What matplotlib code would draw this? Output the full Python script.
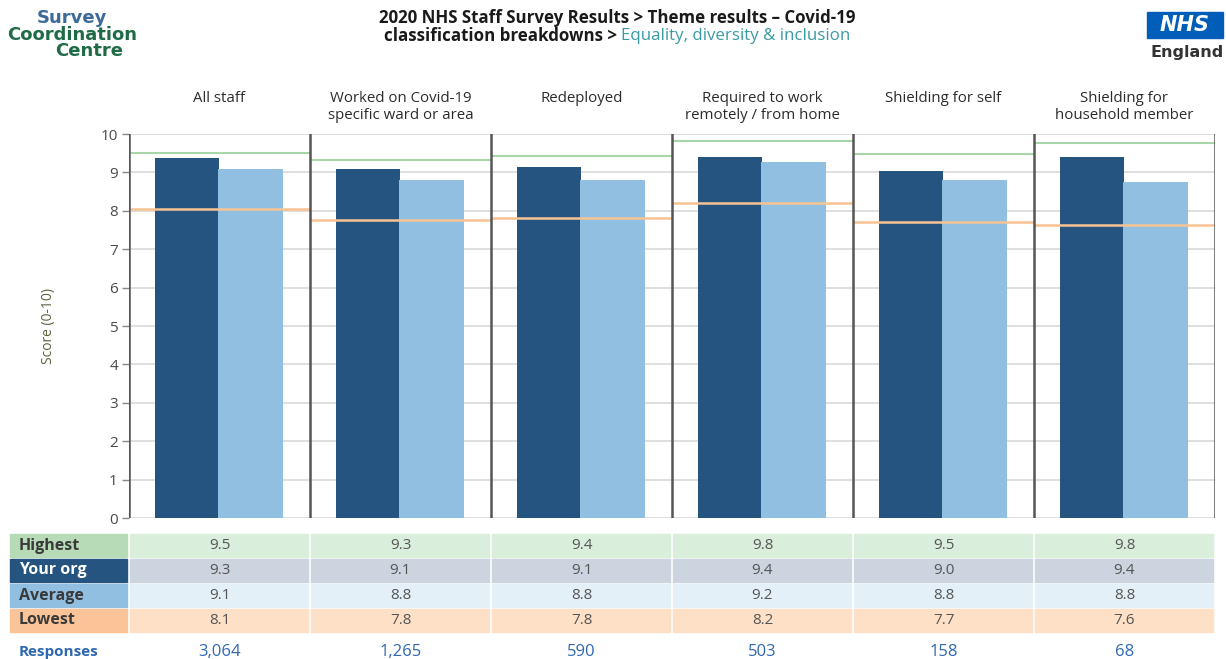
import matplotlib
matplotlib.use("Agg")
import matplotlib.pyplot as plt
from matplotlib.patches import Rectangle
import numpy as np

plt.rcParams['font.family'] = ['Open Sans', 'DejaVu Sans']

# data
categories = ["All staff", "Worked on Covid-19\nspecific ward or area", "Redeployed",
              "Required to work\nremotely / from home", "Shielding for self",
              "Shielding for\nhousehold member"]
your_org = [9.37, 9.09, 9.14, 9.40, 9.04, 9.40]
average = [9.09, 8.80, 8.80, 9.27, 8.80, 8.75]
highest = [9.50, 9.32, 9.43, 9.82, 9.48, 9.77]
lowest = [8.05, 7.76, 7.81, 8.20, 7.71, 7.63]

# table values as printed
tab_highest = ["9.5", "9.3", "9.4", "9.8", "9.5", "9.8"]
tab_org = ["9.3", "9.1", "9.1", "9.4", "9.0", "9.4"]
tab_avg = ["9.1", "8.8", "8.8", "9.2", "8.8", "8.8"]
tab_low = ["8.1", "7.8", "7.8", "8.2", "7.7", "7.6"]
responses = ["3,064", "1,265", "590", "503", "158", "68"]

DARK = '#24547f'
LIGHT = '#91bfe1'
GREEN_LINE = '#a9d6a9'
ORANGE_LINE = '#f8c393'

W, H = 1226, 659
fig = plt.figure(figsize=(W / 100, H / 100), dpi=100)

def px_axes(x0, y0, x1, y1):
    # axes from pixel box (top-left origin)
    return fig.add_axes([x0 / W, 1 - y1 / H, (x1 - x0) / W, (y1 - y0) / H])

ax = px_axes(129, 134, 1215, 518)
n = len(categories)
x = np.arange(n)

ax.bar(x + 0.32, your_org, width=0.355, color=DARK, zorder=3)
ax.bar(x + 0.672, average, width=0.36, color=LIGHT, zorder=3)
ax.hlines(highest, x, x + 1, color=GREEN_LINE, lw=1.5, zorder=4)
ax.hlines(lowest, x, x + 1, color=ORANGE_LINE, lw=1.8, zorder=4)

ax.set_xlim(0, n)
ax.set_ylim(0, 10)
ax.set_yticks(range(0, 11))
ax.set_xticks([])
ax.grid(axis='y', color='#d9d9d9', lw=1.2, zorder=0)
for s in ax.spines.values():
    s.set_visible(False)
for i in range(n + 1):
    ax.axvline(i, color='#555555', lw=1.8, zorder=5)
ax.tick_params(axis='y', length=5, width=1, color='#888888', labelsize=11,
               labelcolor='#4a4a4a', pad=3)
ax.set_ylabel("Score (0-10)", fontsize=10, color='#5b6540', labelpad=32)

for i, c in enumerate(categories):
    ax.text(i + 0.5, 11.12, c, ha='center', va='top', fontsize=10.8,
            color='#2b2b2b', linespacing=1.15, clip_on=False)

# table
tx = px_axes(129, 533, 1215, 659)
tx.set_xlim(0, n)
tx.set_ylim(5.04, 0)
tx.axis('off')

rows = [("Highest", tab_highest, '#b7dbb6', '#d9eedb', '#3a3a3a'),
        ("Your org", tab_org, DARK, '#cbd4df', 'white'),
        ("Average", tab_avg, LIGHT, '#e3f0f8', '#3a3a3a'),
        ("Lowest", tab_low, '#fbc398', '#fde0c6', '#3a3a3a')]
lab_x0 = -119 / 181
for r, (name, vals, lab_bg, cell_bg, lab_col) in enumerate(rows):
    tx.add_patch(Rectangle((lab_x0, r + 0.02), -0.012 - lab_x0, 0.94,
                           color=lab_bg, clip_on=False))
    tx.text(lab_x0 + 0.05, r + 0.5, name, ha='left', va='center',
            fontsize=11.5, fontweight='bold', color=lab_col, clip_on=False)
    for i, v in enumerate(vals):
        tx.add_patch(Rectangle((i + 0.005, r + 0.02), 0.985, 0.94,
                               color=cell_bg, clip_on=False))
        tx.text(i + 0.5, r + 0.5, v, ha='center', va='center', fontsize=11,
                color='#555555')

tx.text(lab_x0 + 0.05, 4.75, "Responses", ha='left', va='center', fontsize=11,
        fontweight='bold', color='#2f68b0', clip_on=False)
for i, v in enumerate(responses):
    tx.text(i + 0.5, 4.75, v, ha='center', va='center', fontsize=12,
            color='#2f68b0')

# header
fig.text(617 / W, 1 - 18 / H, "2020 NHS Staff Survey Results > Theme results \u2013 Covid-19",
         ha='center', va='center', fontsize=12.2, fontweight='bold', color='#1a1a1a')
t1 = fig.text(0, 1 - 36 / H, "classification breakdowns > ", ha='left',
              va='center', fontsize=12.2, fontweight='bold', color='#1a1a1a')
t2 = fig.text(0, 1 - 36 / H, "Equality, diversity & inclusion", ha='left',
              va='center', fontsize=12.2, color='#3a9ba3')
r = fig.canvas.get_renderer()
w1 = t1.get_window_extent(r).width
w2 = t2.get_window_extent(r).width
start = 617 - (w1 + w2) / 2
t1.set_x(start / W)
t2.set_x((start + w1) / W)

# logos
fig.text(72 / W, 1 - 18 / H, "Survey", ha='center', va='center', fontsize=13,
         fontweight='heavy', color='#3d6b99', family='DejaVu Sans')
fig.text(72 / W, 1 - 35 / H, "Coordination", ha='center', va='center', fontsize=13,
         fontweight='heavy', color='#1f6b46', family='DejaVu Sans')
fig.text(89 / W, 1 - 51 / H, "Centre", ha='center', va='center', fontsize=13,
         fontweight='heavy', color='#1f6b46', family='DejaVu Sans')

fig.patches.append(Rectangle((1147 / W, 1 - 38 / H), 76 / W, 26 / H,
                             transform=fig.transFigure, color='#005eb8'))
fig.text(1185 / W, 1 - 25 / H, "NHS", ha='center', va='center', fontsize=15,
         fontweight='bold', style='italic', color='white', family='DejaVu Sans')
fig.text(1224 / W, 1 - 52 / H, "England", ha='right', va='center', fontsize=11.5,
         fontweight='bold', color='#333333', family='DejaVu Sans')

fig.savefig("out.png", dpi=100)
